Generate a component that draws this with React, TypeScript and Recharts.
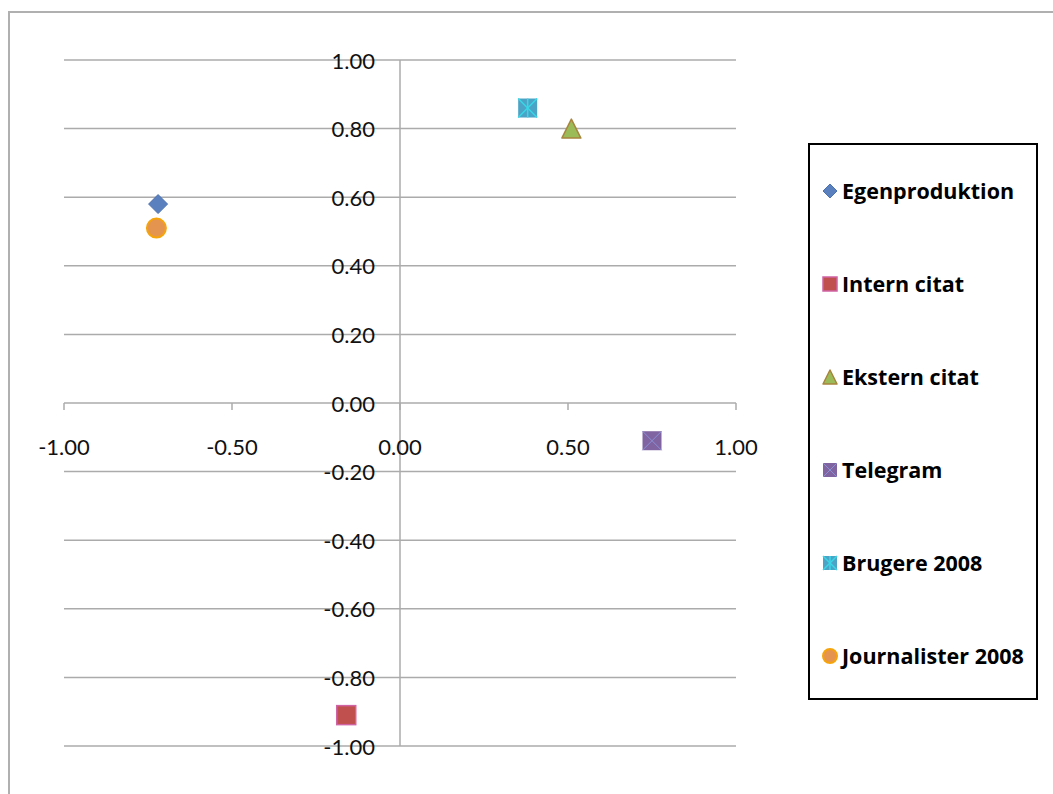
import React from "react";
import {
  ScatterChart,
  Scatter,
  XAxis,
  YAxis,
  ReferenceLine,
  ReferenceDot,
} from "recharts";

// Series, in legend order, with their coordinates
const seriesNames = [
  "Egenproduktion",
  "Intern citat",
  "Ekstern citat",
  "Telegram",
  "Brugere 2008",
  "Journalister 2008",
];
const xValues = [-0.72, -0.16, 0.51, 0.75, 0.38, -0.725];
const yValues = [0.58, -0.91, 0.8, -0.11, 0.86, 0.51];

const xTicks = [-1, -0.5, 0, 0.5, 1];
const yTicks = [-1, -0.8, -0.6, -0.4, -0.2, 0, 0.2, 0.4, 0.6, 0.8, 1];

type MarkerKind = "diamond" | "square" | "triangle" | "xsquare" | "star" | "circle";

const markerKinds: MarkerKind[] = ["diamond", "square", "triangle", "xsquare", "star", "circle"];

const GRID = "#ababab";
const FONT = "Lato, 'Open Sans', sans-serif";
const LEGEND_FONT = "'Open Sans', Lato, sans-serif";

const drawMarker = (kind: MarkerKind, cx: number, cy: number, s: number) => {
  switch (kind) {
    case "diamond":
      return (
        <polygon
          points={`${cx},${cy - s} ${cx + s},${cy} ${cx},${cy + s} ${cx - s},${cy}`}
          fill="#5a80be"
          stroke="#4d72b2"
          strokeWidth={1}
        />
      );
    case "square":
      return (
        <rect
          x={cx - s}
          y={cy - s}
          width={2 * s}
          height={2 * s}
          fill="#c0504d"
          stroke="#d063a4"
          strokeWidth={1.5}
        />
      );
    case "triangle":
      return (
        <polygon
          points={`${cx},${cy - s} ${cx + s},${cy + s} ${cx - s},${cy + s}`}
          fill="#9bbb59"
          stroke="#a8843c"
          strokeWidth={1.5}
          strokeLinejoin="round"
        />
      );
    case "xsquare":
      return (
        <g>
          <rect x={cx - s} y={cy - s} width={2 * s} height={2 * s} fill="#8064a2" />
          <line x1={cx - s} y1={cy - s} x2={cx + s} y2={cy + s} stroke="#8a8fd2" strokeWidth={1} />
          <line x1={cx - s} y1={cy + s} x2={cx + s} y2={cy - s} stroke="#8a8fd2" strokeWidth={1} />
        </g>
      );
    case "star":
      return (
        <g>
          <rect x={cx - s} y={cy - s} width={2 * s} height={2 * s} fill="#4ba4c6" />
          <g stroke="#38d6e6" strokeWidth={1.5}>
            <line x1={cx - s} y1={cy - s} x2={cx + s} y2={cy + s} />
            <line x1={cx - s} y1={cy + s} x2={cx + s} y2={cy - s} />
            <line x1={cx} y1={cy - s} x2={cx} y2={cy + s} />
          </g>
        </g>
      );
    case "circle":
    default:
      return (
        <circle cx={cx} cy={cy} r={s} fill="#e4944f" stroke="#f6a40c" strokeWidth={2} />
      );
  }
};

const XTickMark = (value: number) => (props: any) => {
  const { cx, cy } = props;
  return (
    <g>
      <line x1={cx} y1={cy} x2={cx} y2={cy + 7} stroke={GRID} strokeWidth={1.5} />
      <text
        x={cx}
        y={cy + 43}
        textAnchor="middle"
        dominantBaseline="central"
        fontFamily={FONT}
        fontSize={22}
        fill="#111"
      >
        {value.toFixed(2)}
      </text>
    </g>
  );
};

const YTickLabel = (value: number) => (props: any) => {
  const { cx, cy } = props;
  return (
    <text
      x={cx - 25}
      y={cy}
      textAnchor="end"
      dominantBaseline="central"
      fontFamily={FONT}
      fontSize={22}
      fill="#111"
    >
      {value.toFixed(2)}
    </text>
  );
};

const LegendBox = () => (
  <div
    style={{
      position: "absolute",
      left: 808,
      top: 143,
      width: 230,
      height: 557,
      boxSizing: "border-box",
      border: "2px solid #000",
      background: "#fff",
      display: "flex",
      flexDirection: "column",
      justifyContent: "space-between",
      paddingTop: 33,
      paddingBottom: 29,
    }}
  >
    {seriesNames.map((name, i) => (
      <div key={name} style={{ display: "flex", alignItems: "center", paddingLeft: 12, height: 26 }}>
        <svg width={16} height={16} style={{ marginRight: 4 }}>
          {drawMarker(markerKinds[i], 8, 8, 7)}
        </svg>
        <span
          style={{
            fontFamily: LEGEND_FONT,
            fontWeight: 700,
            fontSize: 21.5,
            color: "#000",
            lineHeight: "26px",
            fontVariantLigatures: "none",
          }}
        >
          {name}
        </span>
      </div>
    ))}
  </div>
);

export default function App() {
  return (
    <div
      style={{
        position: "absolute",
        left: 0,
        top: 0,
        width: 1053,
        height: 794,
        overflow: "hidden",
        background: "#fff",
      }}
    >
      {/* chart area frame */}
      <div
        style={{
          position: "absolute",
          left: 8,
          top: 11,
          width: 1200,
          height: 900,
          borderTop: "2px solid #b0b0b0",
          borderLeft: "2px solid #b0b0b0",
        }}
      />
      <div style={{ position: "absolute", left: 0, top: 0 }}>
        <ScatterChart
          width={1053}
          height={794}
          margin={{ top: 60, right: 317, bottom: 48, left: 64 }}
        >
          <XAxis type="number" dataKey="x" domain={[-1, 1]} ticks={xTicks} hide />
          <YAxis type="number" dataKey="y" domain={[-1, 1]} ticks={yTicks} hide />
          {yTicks.map((v) => (
            <ReferenceLine key={`g${v}`} y={v} stroke={GRID} strokeWidth={1.5} ifOverflow="visible" />
          ))}
          <ReferenceLine x={0} stroke={GRID} strokeWidth={1.5} ifOverflow="visible" />
          {xTicks.map((v) => (
            <ReferenceDot
              key={`xt${v}`}
              x={v}
              y={0}
              r={0}
              ifOverflow="visible"
              shape={XTickMark(v)}
            />
          ))}
          {yTicks.map((v) => (
            <ReferenceDot
              key={`yt${v}`}
              x={0}
              y={v}
              r={0}
              ifOverflow="visible"
              shape={YTickLabel(v)}
            />
          ))}
          {seriesNames.map((name, i) => (
            <Scatter
              key={name}
              name={name}
              data={[{ x: xValues[i], y: yValues[i] }]}
              isAnimationActive={false}
              shape={(p: any) => drawMarker(markerKinds[i], p.cx, p.cy, 9.5)}
            />
          ))}
        </ScatterChart>
      </div>
      <LegendBox />
    </div>
  );
}
